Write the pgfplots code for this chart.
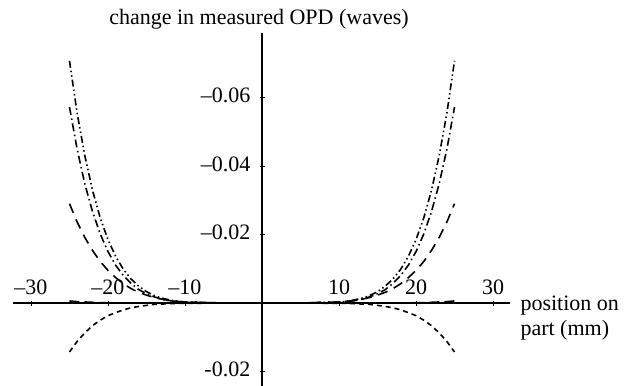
\documentclass[border=0pt]{standalone}
\usepackage{fontspec}
\setmainfont{Liberation Serif}
\usepackage{pgfplots}
\pgfplotsset{compat=1.18}
\usepackage{pgfplotstable}

\pgfplotstableread{
x    a        b        c        d        e
-25 -0.0707 -0.0572 -0.0290 0.0143 -0.0006
-24 -0.0553 -0.0448 -0.0236 0.0112 -0.0004
-23 -0.0429 -0.0347 -0.0191 0.0087 -0.0003
-22 -0.0328 -0.0266 -0.0153 0.0066 -0.0002
-21 -0.0248 -0.0201 -0.0121 0.0050 -0.0001
-20 -0.0185 -0.0150 -0.0095 0.0037 -0.0001
-19 -0.0136 -0.0110 -0.0074 0.0028 0
-18 -0.0098 -0.0080 -0.0056 0.0020 0
-17 -0.0070 -0.0057 -0.0042 0.0014 0
-16 -0.0049 -0.0039 -0.0031 0.0010 0
-15 -0.0033 -0.0027 -0.0023 0.0007 0
-14 -0.0022 -0.0018 -0.0016 0.0004 0
-13 -0.0014 -0.0011 -0.0011 0.0003 0
-12 -0.0009 -0.0007 -0.0007 0.0002 0
-11 -0.0005 -0.0004 -0.0005 0.0001 0
-10 -0.0003 -0.0002 -0.0003 0.0001 0
-5   0       0       0      0      0
0    0       0       0      0      0
5    0       0       0      0      0
10  -0.0003 -0.0002 -0.0003 0.0001 0
11  -0.0005 -0.0004 -0.0005 0.0001 0
12  -0.0009 -0.0007 -0.0007 0.0002 0
13  -0.0014 -0.0011 -0.0011 0.0003 0
14  -0.0022 -0.0018 -0.0016 0.0004 0
15  -0.0033 -0.0027 -0.0023 0.0007 0
16  -0.0049 -0.0039 -0.0031 0.0010 0
17  -0.0070 -0.0057 -0.0042 0.0014 0
18  -0.0098 -0.0080 -0.0056 0.0020 0
19  -0.0136 -0.0110 -0.0074 0.0028 0
20  -0.0185 -0.0150 -0.0095 0.0037 -0.0001
21  -0.0248 -0.0201 -0.0121 0.0050 -0.0001
22  -0.0328 -0.0266 -0.0153 0.0066 -0.0002
23  -0.0429 -0.0347 -0.0191 0.0087 -0.0003
24  -0.0553 -0.0448 -0.0236 0.0112 -0.0004
25  -0.0707 -0.0572 -0.0290 0.0143 -0.0006
}\data

\begin{document}
\begin{tikzpicture}[font=\fontsize{22bp}{24bp}\selectfont]
\useasboundingbox (-262bp,-83bp) rectangle (362bp,303bp);
\begin{axis}[
  anchor=origin, at={(0,0)},
  x=7.7bp, y=3425bp, y dir=reverse,
  xmin=-32.3, xmax=32.2, ymin=-0.0788, ymax=0.0242,
  axis lines=middle,
  axis line style={-, line width=1.6bp, black},
  clip=false,
  scaled ticks=false,
  xtick={-30,-20,-10,10,20,30},
  xticklabels={\textendash30,\textendash20,\textendash10,10,20,30},
  ytick={-0.06,-0.04,-0.02,0.02},
  yticklabels={\textendash0.06,\textendash0.04,\textendash0.02,-0.02},
  tick style={line width=0.9bp, black},
  major tick length=5bp,
  tick label style={font=\fontsize{22bp}{24bp}\selectfont, inner sep=0pt},
  xticklabel style={anchor=base, yshift=11bp},
  yticklabel style={anchor=east, xshift=-9bp, yshift=2bp},
]
\addplot[black, line width=1.6bp, dash pattern=on 7bp off 3bp on 1.5bp off 3bp on 1.5bp off 3bp] table[x=x,y=a] {\data};
\addplot[black, line width=1.6bp, dash pattern=on 8bp off 3.5bp on 1.5bp off 3.5bp] table[x=x,y=b] {\data};
\addplot[black, line width=1.6bp, dash pattern=on 10bp off 7bp] table[x=x,y=c] {\data};
\addplot[black, line width=1.6bp, dash pattern=on 5bp off 4bp] table[x=x,y=d] {\data};
\addplot[black, line width=1.6bp, dash pattern=on 10bp off 5bp] table[x=x,y=e] {\data};
\end{axis}
\node[anchor=base] at (-3bp,278bp) {change in measured OPD (waves)};
\node[anchor=base west] at (255bp,-7bp) {position on};
\node[anchor=base west] at (255bp,-32bp) {part (mm)};
\end{tikzpicture}
\end{document}
